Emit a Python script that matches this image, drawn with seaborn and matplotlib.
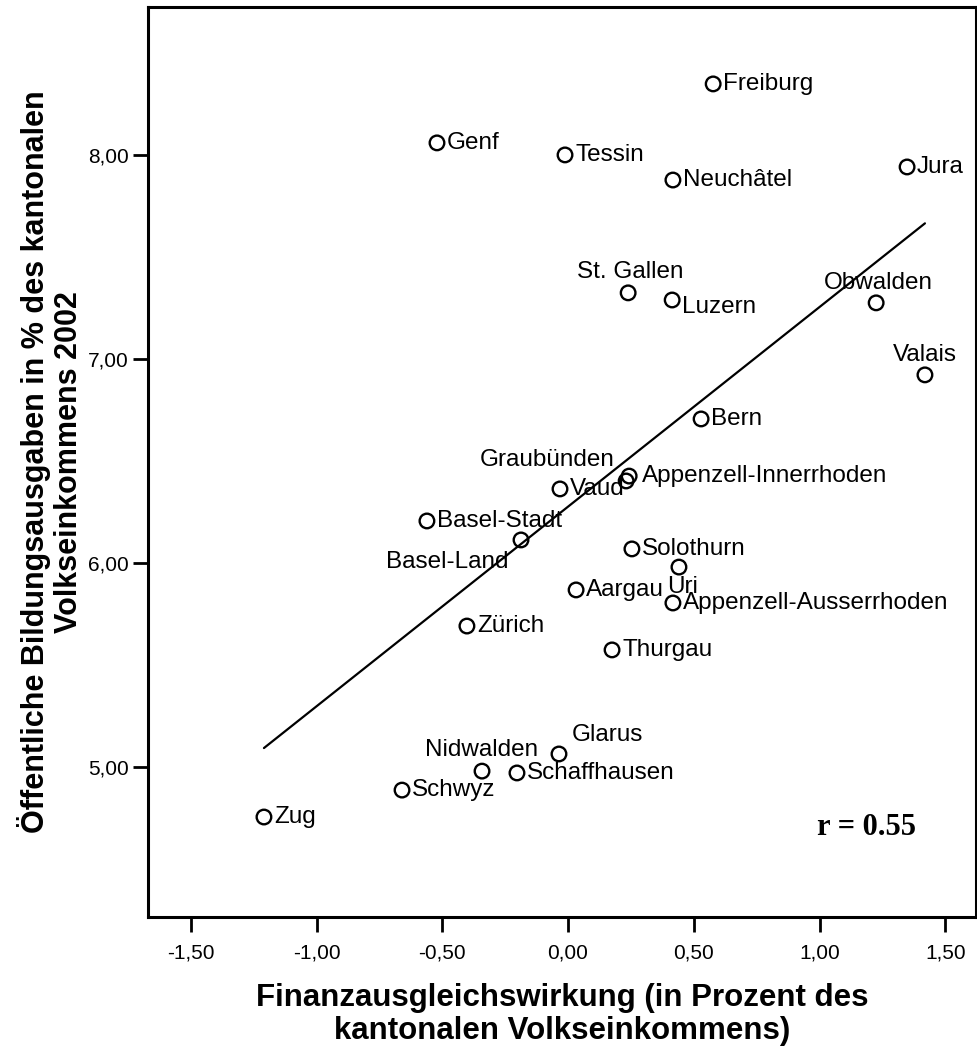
import matplotlib
matplotlib.use("Agg")
import matplotlib.pyplot as plt
import seaborn as sns
import pandas as pd
import numpy as np

cantons = ["Freiburg", "Genf", "Tessin", "Neuchâtel", "Jura", "St. Gallen", "Luzern",
           "Obwalden", "Valais", "Bern", "Graubünden", "Appenzell-Innerrhoden", "Vaud",
           "Basel-Stadt", "Basel-Land", "Solothurn", "Uri", "Aargau",
           "Appenzell-Ausserrhoden", "Zürich", "Thurgau", "Glarus", "Nidwalden",
           "Schaffhausen", "Schwyz", "Zug"]
finanzausgleich = [0.577, -0.521, -0.012, 0.417, 1.348, 0.239, 0.414,
                   1.225, 1.419, 0.529, 0.231, 0.243, -0.032,
                   -0.561, -0.187, 0.254, 0.441, 0.032,
                   0.417, -0.402, 0.175, -0.036, -0.342,
                   -0.203, -0.660, -1.209]
bildung = [8.348, 8.059, 8.000, 7.877, 7.941, 7.324, 7.289,
           7.275, 6.922, 6.706, 6.402, 6.426, 6.363,
           6.206, 6.113, 6.069, 5.980, 5.868,
           5.804, 5.691, 5.574, 5.064, 4.980,
           4.971, 4.887, 4.755]
x_ticks = [-1.5, -1.0, -0.5, 0.0, 0.5, 1.0, 1.5]
x_ticklabels = ["-1,50", "-1,00", "-0,50", "0,00", "0,50", "1,00", "1,50"]
y_ticks = [5, 6, 7, 8]
y_ticklabels = ["5,00", "6,00", "7,00", "8,00"]

# label placement (pixel offsets, alignment) - style only
label_style = {
    "St. Gallen": (2, 21, "center"),
    "Obwalden": (2, 20, "center"),
    "Valais": (0, 20, "center"),
    "Graubünden": (-12, 21, "right"),
    "Basel-Land": (-13, -22, "right"),
    "Glarus": (13, 19, "left"),
    "Nidwalden": (0, 21, "center"),
    "Uri": (4, -20, "center"),
    "Luzern": (10, -7, "left"),
    "Appenzell-Innerrhoden": (13, 0, "left"),
}

df = pd.DataFrame({"name": cantons, "x": finanzausgleich, "y": bildung})

sns.set_style("white")
plt.rcParams["font.family"] = ["Liberation Sans", "DejaVu Sans"]
plt.rcParams["axes.labelcolor"] = "black"
plt.rcParams["text.color"] = "black"

fig = plt.figure(figsize=(9.77, 10.56), dpi=100)
ax = fig.add_axes([148 / 977, 1 - 917 / 1056, (976 - 148) / 977, (917 - 7) / 1056])

sns.regplot(data=df, x="x", y="y", ax=ax, scatter=False, ci=None, truncate=True,
            line_kws=dict(color="black", lw=1.6))
sns.scatterplot(data=df, x="x", y="y", ax=ax, marker="o", s=110,
                facecolor="none", edgecolor="black", linewidth=1.7, zorder=3)

for name, xv, yv in zip(df["name"], df["x"], df["y"]):
    dx, dy, ha = label_style.get(name, (10, 0, "left"))
    ax.annotate(name, (xv, yv), xytext=(dx, dy), textcoords="offset pixels",
                ha=ha, va="center", fontsize=17.5, color="black")

ax.set_xlim(-1.670, 1.622)
ax.set_ylim(4.265, 8.725)
ax.set_xticks(x_ticks)
ax.set_xticklabels(x_ticklabels)
ax.set_yticks(y_ticks)
ax.set_yticklabels(y_ticklabels)
ax.tick_params(axis="both", which="major", direction="out", length=11, width=2,
               color="black", labelsize=15, labelcolor="black",
               bottom=True, left=True, top=False, right=False)
ax.tick_params(axis="x", pad=8)
ax.tick_params(axis="y", pad=3)
for sp in ax.spines.values():
    sp.set_visible(True)
    sp.set_color("black")
    sp.set_linewidth(2.2)

ax.set_xlabel("Finanzausgleichswirkung (in Prozent des\nkantonalen Volkseinkommens)",
              fontsize=22.5, fontweight="bold", labelpad=15, linespacing=1.1,
              color="black")
ax.set_ylabel("Öffentliche Bildungsausgaben in % des kantonalen\nVolkseinkommens 2002",
              fontsize=22, fontweight="bold", labelpad=3, linespacing=1.1,
              color="black")

ax.text(0.868, 0.098, "r = 0.55", transform=ax.transAxes, ha="center", va="center",
        fontsize=22, fontweight="bold", color="black",
        family=["Liberation Serif", "DejaVu Serif"])

fig.savefig("out.png", dpi=100, facecolor="white")
